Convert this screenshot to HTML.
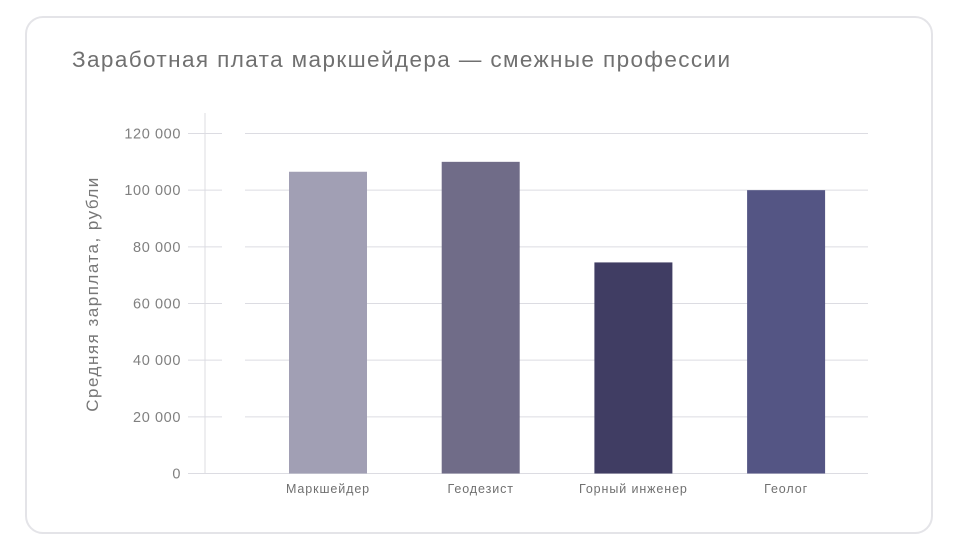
<!DOCTYPE html>
<html><head><meta charset="utf-8"><style>
html,body{margin:0;padding:0;background:#fff;width:960px;height:550px;overflow:hidden}
#card{position:absolute;left:25px;top:16px;width:908px;height:518px;border:2px solid #e4e4e8;border-radius:18px;box-sizing:border-box}
svg{position:absolute;left:0;top:0}
text{font-family:"Liberation Sans","Noto Sans CJK SC",sans-serif}
</style></head><body>
<div id="card"></div>
<svg id="chart" width="960" height="550">
<text x="72" y="67" font-size="22.5" letter-spacing="1.4" fill="#707070">Заработная плата маркшейдера — смежные профессии</text>
<text transform="translate(98,294) rotate(-90)" text-anchor="middle" font-size="17" letter-spacing="1.5" fill="#777">Средняя зарплата, рубли</text>
</svg>
<script>
const categories=["Маркшейдер","Геодезист","Горный инженер","Геолог"];
const values=[106500,110000,74500,100000];
const colors=["#a19fb4","#706c88","#403d63","#545584"];
const ticks=[0,20000,40000,60000,80000,100000,120000];
const tickLabels=["0","20 000","40 000","60 000","80 000","100 000","120 000"];
const svg=document.getElementById('chart');
const NS='http://www.w3.org/2000/svg';
const y0=473.5,pxPer=340/120000;
const y=v=>y0-v*pxPer;
const x=i=>328+i*152.7;
const bw=78;
function mk(t,a){const e=document.createElementNS(NS,t);for(const k in a)e.setAttribute(k,a[k]);svg.appendChild(e);return e;}
let ax=mk('line',{x1:205,x2:205,y1:113,y2:474,stroke:'#dcdce2','stroke-width':1});


ticks.forEach((t,i)=>{
  const yy=y(t);
  let tk=mk('line',{x1:188,x2:222,y1:yy,y2:yy,stroke:'#dcdce2','stroke-width':1});
  
  
  let g=mk('line',{x1:t===0?222:245,x2:868,y1:yy,y2:yy,stroke:'#dcdce2','stroke-width':1});
  
  
  let tx=mk('text',{x:181,y:yy+5,'text-anchor':'end','font-size':14.5,'letter-spacing':0.6,fill:'#808080'});
  tx.textContent=tickLabels[i];
  
  
});
categories.forEach((c,i)=>{
  let r=mk('rect',{x:x(i)-bw/2,y:y(values[i]),width:bw,height:y0-y(values[i]),fill:colors[i]});
  
  
  let tx=mk('text',{x:x(i),y:493,'text-anchor':'middle','font-size':12.5,'letter-spacing':0.9,fill:'#707070'});
  tx.textContent=c;
  
  
});
</script>
</body></html>
